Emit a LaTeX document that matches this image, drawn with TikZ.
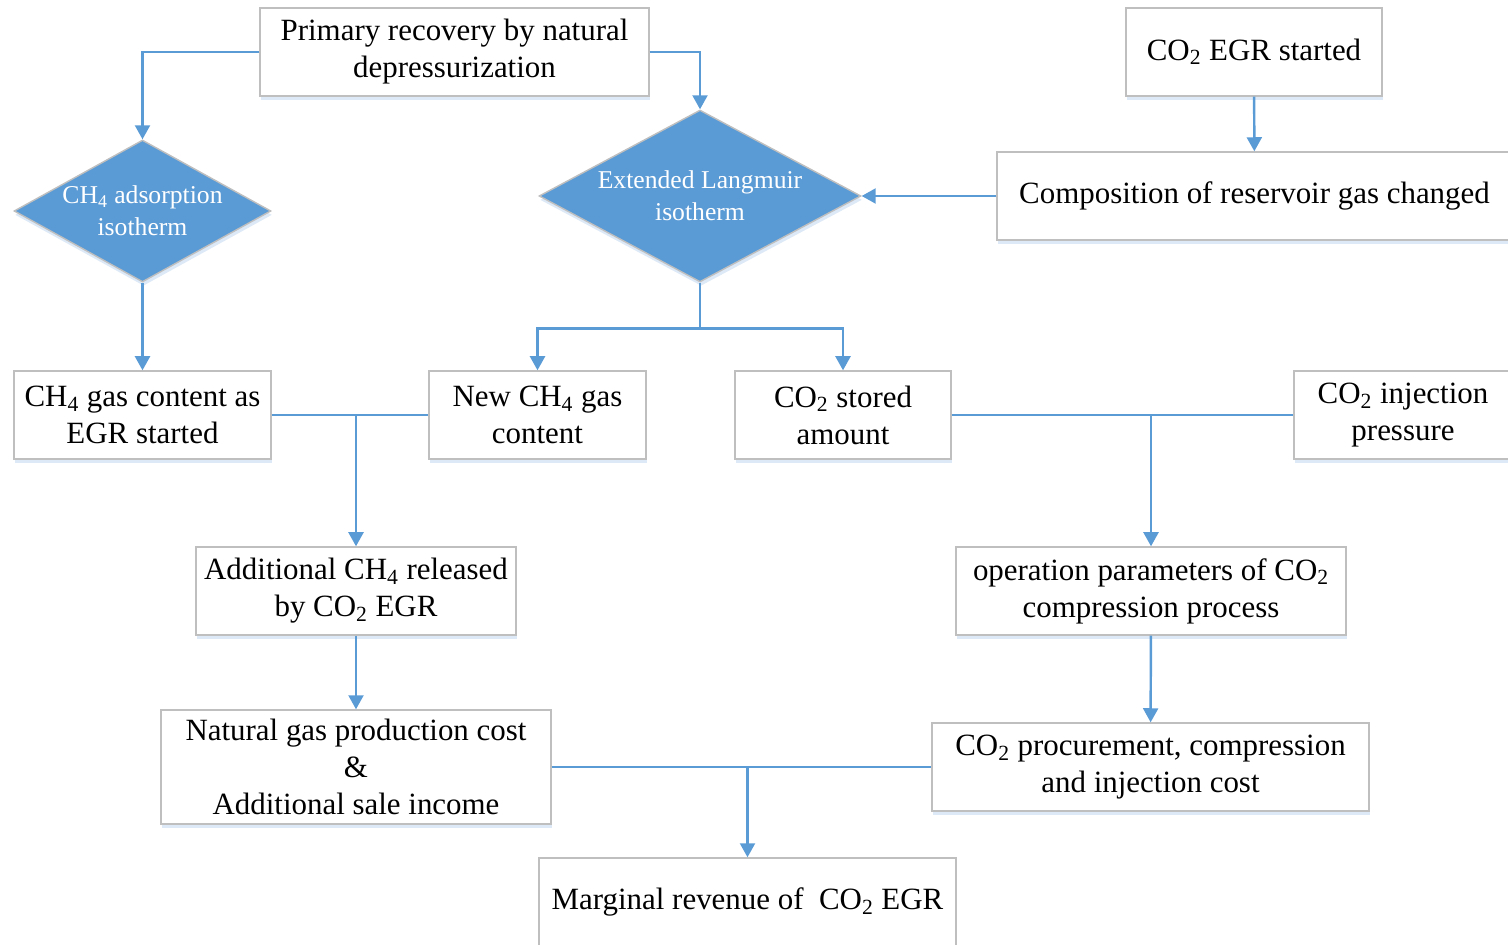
\documentclass[tikz,border=0pt]{standalone}
\usepackage{fontspec}
\setmainfont{Liberation Serif}
\usetikzlibrary{arrows.meta,shapes.geometric,shadows}
\definecolor{egLine}{HTML}{5B9BD5}
\definecolor{egBorder}{HTML}{BFBFBF}
\definecolor{egShadow}{HTML}{DDE9F6}

\begin{document}
\begin{tikzpicture}[
    x=0.02cm,y=-0.02cm,
    font=\fontsize{17.6}{21}\selectfont,
    box/.style={draw=egBorder,line width=0.8pt,fill=white,align=center,inner sep=0pt,
                minimum height=1.76cm,
                drop shadow={shadow xshift=0.6pt,shadow yshift=-2.2pt,fill=egShadow,opacity=1}},
    dia/.style={diamond,draw=egBorder,line width=0.8pt,fill=egLine,text=white,align=center,
                inner sep=0pt,font=\fontsize{14.6}{18}\selectfont,
                drop shadow={shadow xshift=0.6pt,shadow yshift=-2.2pt,fill=egShadow,opacity=1}},
    wire/.style={draw=egLine,line width=1.4pt},
    conn/.style={wire,-{Triangle[length=8pt,width=8.5pt]}}
  ]
    \useasboundingbox (0,0) rectangle (1508,945);

    % top row
    \node[box,minimum width=7.78cm] (primary) at (454.5,52) {Primary recovery by natural\\depressurization};
    \node[box,minimum width=5.12cm] (egrstart) at (1254,52) {CO\textsubscript{2} EGR started};
    \node[box,minimum width=10.3cm] (compo) at (1254.5,196) {Composition of reservoir gas changed};

    % isotherms
    \node[dia,shape aspect=1.81,minimum width=5.14cm,minimum height=2.84cm] (adsorp) at (142.5,211)
      {CH\textsubscript{4} adsorption\\isotherm};
    \node[dia,shape aspect=1.87,minimum width=6.44cm,minimum height=3.44cm] (langm) at (700,196)
      {Extended Langmuir\\isotherm};

    % middle row
    \node[box,minimum width=5.14cm] (gasegr) at (142.5,415) {CH\textsubscript{4} gas content as\\EGR started};
    \node[box,minimum width=4.34cm] (newgas) at (537.5,415) {New CH\textsubscript{4} gas\\content};
    \node[box,minimum width=4.32cm] (stored) at (843,415) {CO\textsubscript{2} stored\\amount};
    \node[box,minimum width=4.36cm] (injpres) at (1403,415) {CO\textsubscript{2} injection\\pressure};

    \node[box,minimum width=6.4cm] (released) at (356,591) {Additional CH\textsubscript{4} released\\by CO\textsubscript{2} EGR};
    \node[box,minimum width=7.8cm] (operpar) at (1151,591) {operation parameters of CO\textsubscript{2}\\compression process};

    % costs
    \node[box,minimum width=7.8cm,minimum height=2.28cm] (prodcost) at (356,767)
      {Natural gas production cost\\\&\\Additional sale income};
    \node[box,minimum width=8.74cm] (injcost) at (1150.5,767) {CO\textsubscript{2} procurement, compression\\and injection cost};
    \node[box,minimum width=8.34cm] (margin) at (747.5,902) {Marginal revenue of\ \ CO\textsubscript{2} EGR};

    \draw[conn] (primary.west) -| (adsorp.north);
    \draw[conn] (primary.east) -| (langm.north);
    \draw[conn] (egrstart) -- (compo);
    \draw[conn] (compo.west) -- (langm.east);
    \draw[conn] (adsorp) -- (gasegr);
    \draw[conn] (langm.south) -- ++(0,46) -| (newgas.north);
    \draw[conn] (langm.south) -- ++(0,46) -| (stored.north);

    \draw[wire] (gasegr.east) -- (newgas.west);
    \draw[conn] (gasegr.east -| released.north) -- (released);
    \draw[wire] (stored.east) -- (injpres.west);
    \draw[conn] (stored.east -| operpar.north) -- (operpar);

    \draw[conn] (released) -- (prodcost);
    \draw[conn] (operpar) -- (injcost);
    \draw[wire] (prodcost.east) -- (injcost.west);
    \draw[conn] (prodcost.east -| margin.north) -- (margin);
  \end{tikzpicture}
\end{document}
